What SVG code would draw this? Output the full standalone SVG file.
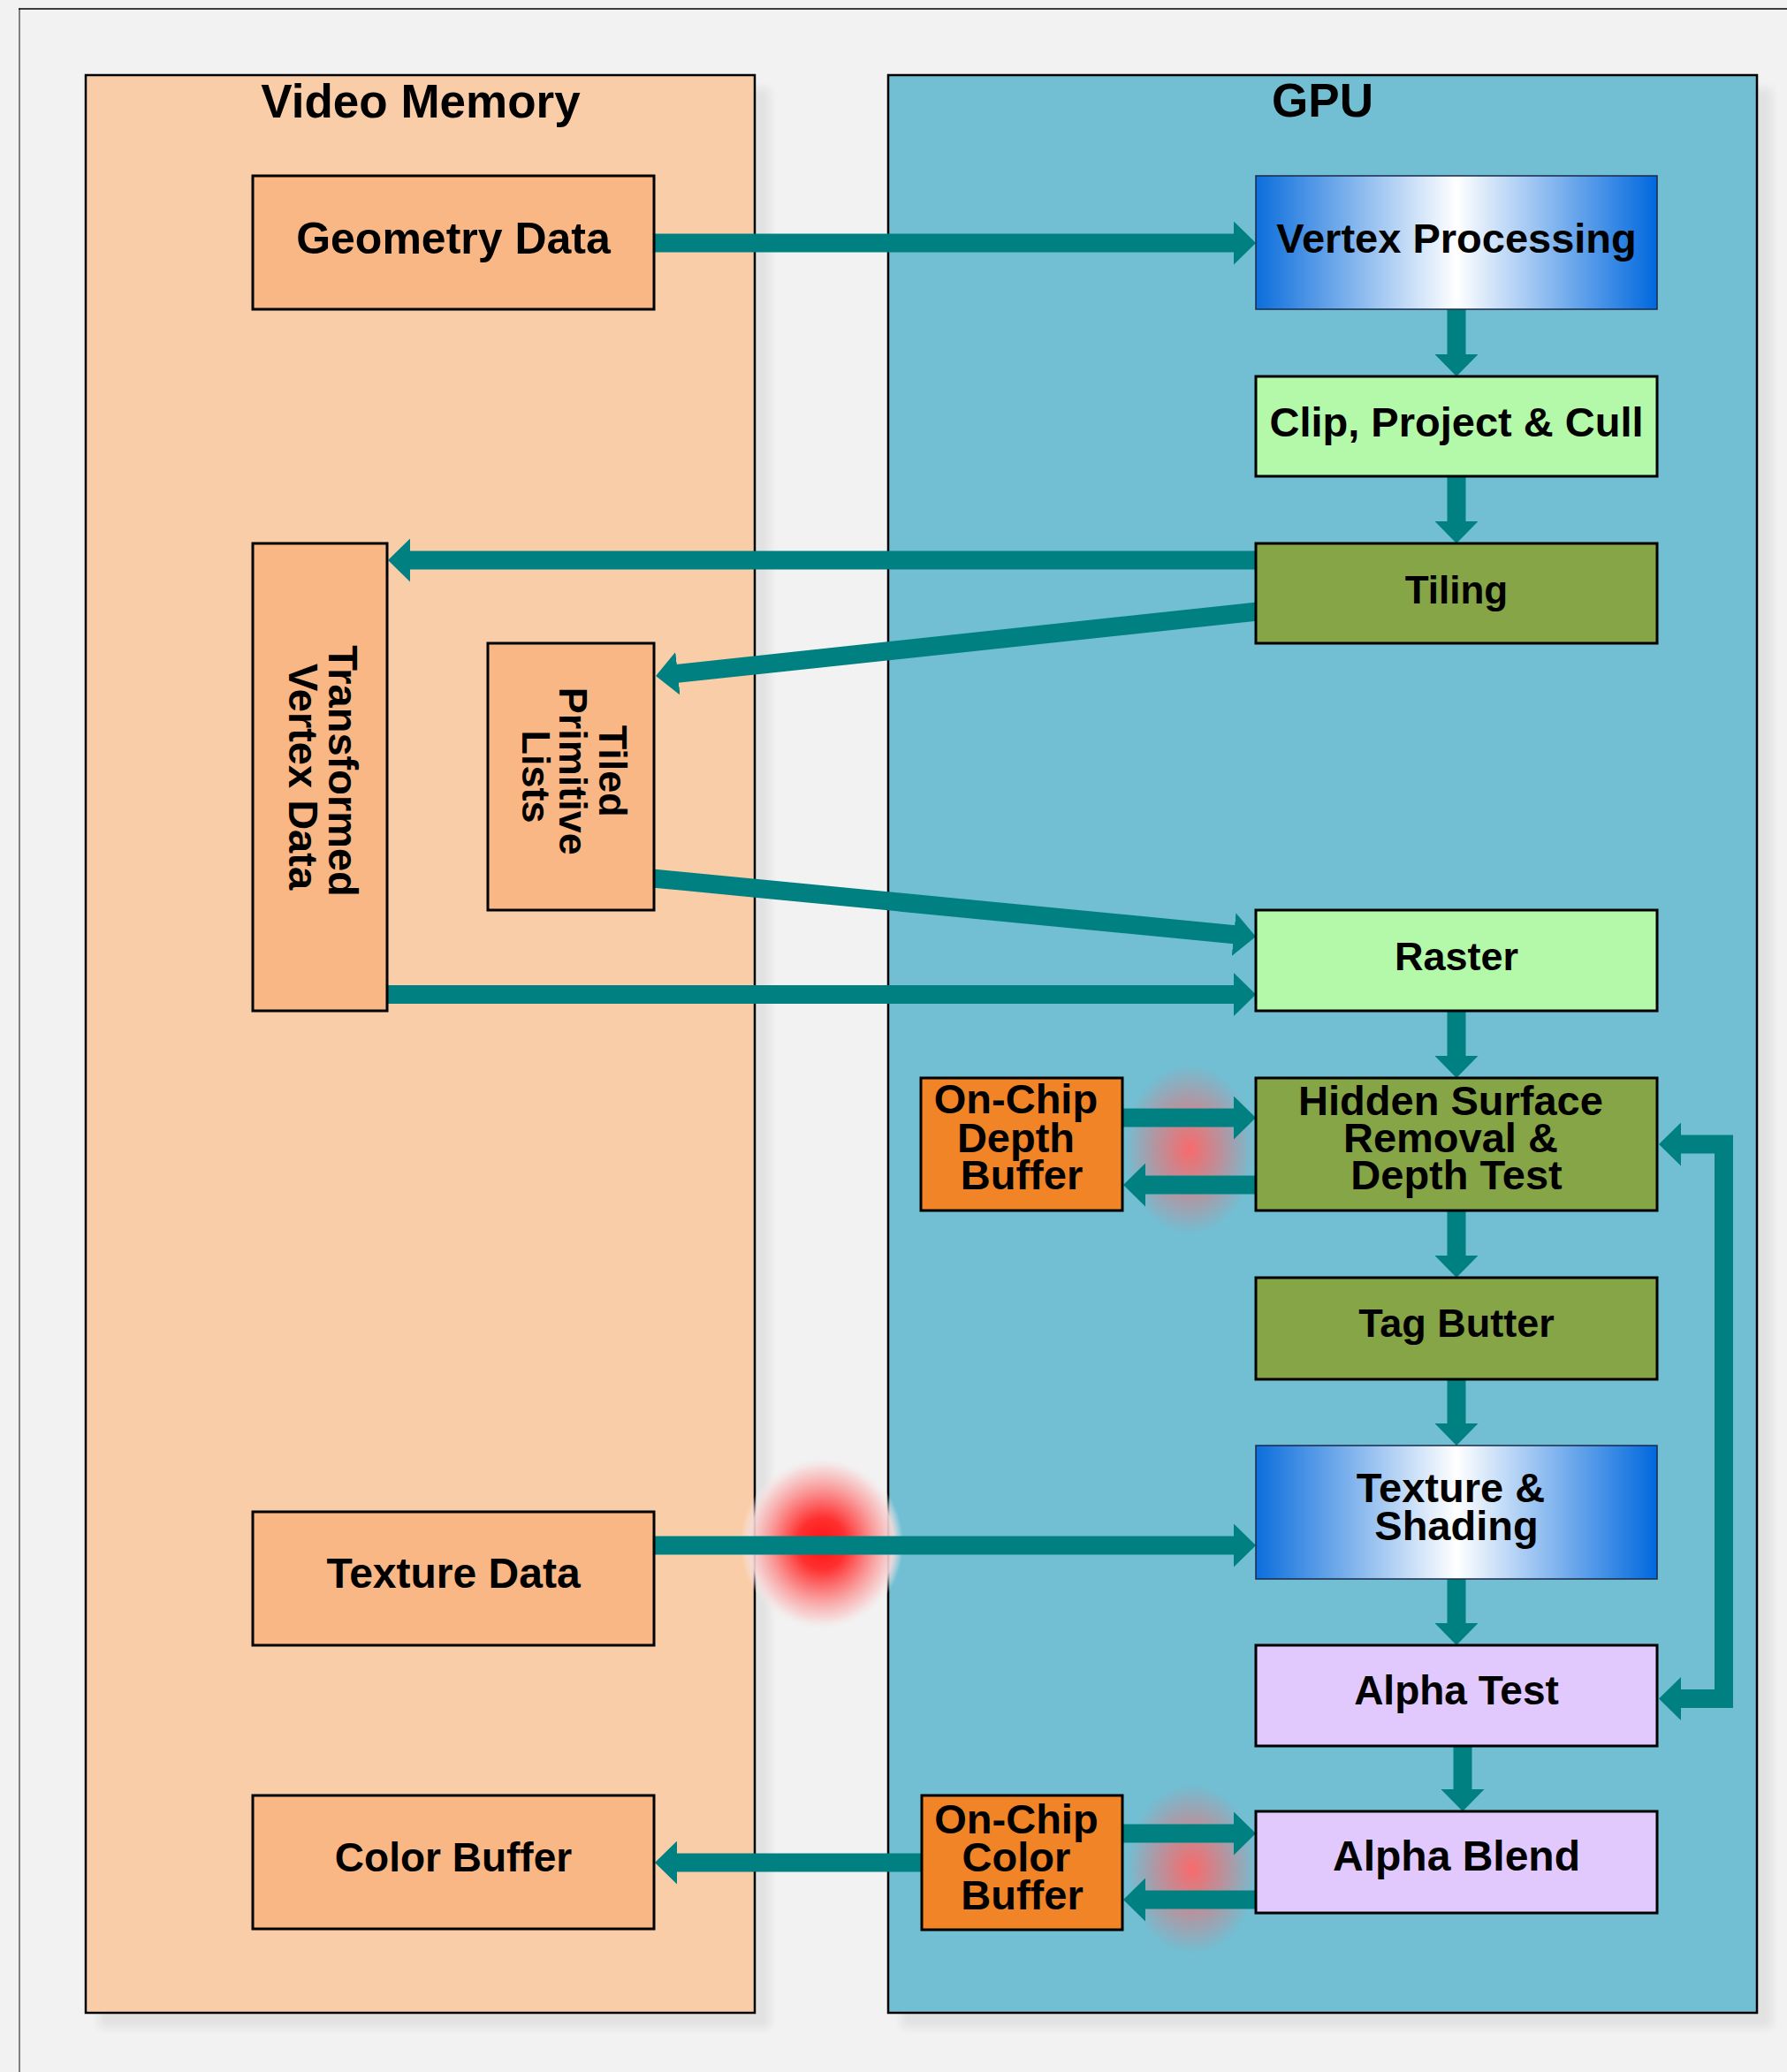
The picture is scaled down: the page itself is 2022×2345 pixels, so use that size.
<svg xmlns="http://www.w3.org/2000/svg" width="2022" height="2345" viewBox="0 0 2022 2345">
  <style>
    .lbl { font-family: "Liberation Sans", Arial, sans-serif; font-weight: bold; font-size: 47px; fill: #000; text-anchor: middle; }
    .title { font-size: 53px; }
    .cont { stroke: #000; stroke-width: 2.5; filter: url(#shadow); }
    .node { stroke: #000; stroke-width: 3; }
    .grad { stroke: #1a2a4a; stroke-width: 1.5; fill: url(#blueGrad); }
    .mem { fill: #F8B784; }
    .chip { fill: #F08426; }
    .lgreen { fill: #B4F8AA; }
    .dgreen { fill: #86A546; }
    .lav { fill: #E1C8FD; }
    .conn { fill: none; stroke: #008080; stroke-width: 21; marker-end: url(#head); }
  </style>
  <defs>
    <marker id="head" viewBox="0 0 25 49" refX="1" refY="24.5" markerWidth="25" markerHeight="49" markerUnits="userSpaceOnUse" orient="auto-start-reverse">
      <path d="M0,0 L25,24.5 L0,49 z" fill="#008080"/>
    </marker>
    <linearGradient id="blueGrad" x1="0" y1="0" x2="1" y2="0">
      <stop offset="0" stop-color="#0C6EDC"/>
      <stop offset="0.5" stop-color="#FFFFFF"/>
      <stop offset="1" stop-color="#0068DE"/>
    </linearGradient>
    <radialGradient id="glowBig">
      <stop offset="0" stop-color="#FF1010" stop-opacity="1"/>
      <stop offset="0.3" stop-color="#FF3030" stop-opacity="1"/>
      <stop offset="0.65" stop-color="#FA9A9A" stop-opacity="0.95"/>
      <stop offset="0.88" stop-color="#F6DADA" stop-opacity="0.9"/>
      <stop offset="1" stop-color="#F4EEEE" stop-opacity="0"/>
    </radialGradient>
    <radialGradient id="glowSmall">
      <stop offset="0" stop-color="#FF6666" stop-opacity="0.95"/>
      <stop offset="0.5" stop-color="#FF6666" stop-opacity="0.5"/>
      <stop offset="1" stop-color="#FF6666" stop-opacity="0"/>
    </radialGradient>
    <filter id="shadow" x="-10%" y="-10%" width="130%" height="130%">
      <feGaussianBlur in="SourceAlpha" stdDeviation="5"/>
      <feOffset dx="16" dy="16" result="b"/>
      <feComponentTransfer in="b" result="s">
        <feFuncA type="linear" slope="0.07"/>
      </feComponentTransfer>
      <feMerge>
        <feMergeNode in="s"/>
        <feMergeNode in="SourceGraphic"/>
      </feMerge>
    </filter>
  </defs>

  <rect x="0" y="0" width="2022" height="2345" fill="#F2F2F2"/>
  <path d="M22,2345 V10" stroke="#808080" stroke-width="2" fill="none"/>
  <path d="M21,10 H2022" stroke="#000" stroke-width="1.5" fill="none"/>

  <g id="video-memory">
    <rect class="cont" x="97" y="85" width="757" height="2193" fill="#FACDA9"/>
    <text class="lbl title" x="476" y="133">Video Memory</text>
  </g>
  <g id="gpu">
    <rect class="cont" x="1005" y="85" width="983" height="2193" fill="#72BED3"/>
    <text class="lbl title" x="1496.5" y="132">GPU</text>
  </g>

  <g id="glows">
    <ellipse cx="1346" cy="1301" rx="74" ry="96" fill="url(#glowSmall)"/>
    <ellipse cx="1349" cy="2115" rx="74" ry="96" fill="url(#glowSmall)"/>
    <ellipse cx="930" cy="1747" rx="92" ry="98" fill="url(#glowBig)"/>
  </g>

  <g id="connectors">
    <path class="conn" d="M738,275 H1397"/>
    <path class="conn" d="M1648,348 V402"/>
    <path class="conn" d="M1648,537 V591"/>
    <path class="conn" d="M1423,634 H463"/>
    <path class="conn" d="M1423,692 L765.9,762.4"/>
    <path class="conn" d="M738,994 L1397.1,1057.7"/>
    <path class="conn" d="M436,1125.5 H1397"/>
    <path class="conn" d="M1648,1142 V1196"/>
    <path class="conn" d="M1268,1265 H1397"/>
    <path class="conn" d="M1423,1341 H1295"/>
    <path class="conn" d="M1648,1368 V1422"/>
    <path class="conn" d="M1648,1559 V1612"/>
    <path class="conn" d="M738,1749 H1397"/>
    <path class="conn" d="M1648,1785 V1838"/>
    <path class="conn" d="M1655,1974 V2026"/>
    <path class="conn" d="M1268,2075 H1397"/>
    <path class="conn" d="M1423,2150 H1295"/>
    <path class="conn" d="M1045,2108 H765"/>
    <path class="conn" d="M1901,1295 H1950.5 V1922.5 H1901" style="marker-start:url(#head)"/>
  </g>

  <g id="geometry-data">
    <rect class="node mem" x="286" y="199" width="454" height="151"/>
    <text class="lbl" x="513" y="287" style="font-size:50px">Geometry Data</text>
  </g>
  <g id="vertex-processing">
    <rect class="grad" x="1421" y="199" width="454" height="151"/>
    <text class="lbl" x="1648" y="286">Vertex Processing</text>
  </g>
  <g id="clip-project-cull">
    <rect class="node lgreen" x="1421" y="426" width="454" height="113"/>
    <text class="lbl" x="1648" y="494">Clip, Project &amp; Cull</text>
  </g>
  <g id="tiling">
    <rect class="node dgreen" x="1421" y="615" width="454" height="113"/>
    <text class="lbl" x="1648" y="683" style="font-size:44px">Tiling</text>
  </g>
  <g id="transformed-vertex-data">
    <rect class="node mem" x="286" y="615" width="152" height="529"/>
    <text class="lbl" transform="translate(362,879) rotate(90)">
      <tspan x="0" y="-10">Transformed</tspan>
      <tspan x="0" y="35">Vertex Data</tspan>
    </text>
  </g>
  <g id="tiled-primitive-lists">
    <rect class="node mem" x="552" y="728" width="188" height="302"/>
    <text class="lbl" transform="translate(646,879) rotate(90)" style="font-size:45px">
      <tspan x="0" y="-32">Tiled</tspan>
      <tspan x="0" y="13.5">Primitive</tspan>
      <tspan x="0" y="55.5">Lists</tspan>
    </text>
  </g>
  <g id="raster">
    <rect class="node lgreen" x="1421" y="1030" width="454" height="114"/>
    <text class="lbl" x="1648" y="1098" style="font-size:45px">Raster</text>
  </g>
  <g id="hidden-surface-removal">
    <rect class="node dgreen" x="1421" y="1220" width="454" height="150"/>
    <text class="lbl">
      <tspan x="1648" y="1261.5">Hidden Surface</tspan>
      <tspan x="1648" y="1304">Removal &amp;</tspan>
      <tspan x="1648" y="1346">Depth Test</tspan>
    </text>
  </g>
  <g id="on-chip-depth-buffer">
    <rect class="node chip" x="1042" y="1220" width="228" height="150"/>
    <text class="lbl">
      <tspan x="1156" y="1260">On-Chip</tspan>
      <tspan x="1156" y="1304">Depth</tspan>
      <tspan x="1156" y="1346">Buffer</tspan>
    </text>
  </g>
  <g id="tag-butter">
    <rect class="node dgreen" x="1421" y="1446" width="454" height="115"/>
    <text class="lbl" x="1648" y="1513" style="font-size:45px">Tag Butter</text>
  </g>
  <g id="texture-shading">
    <rect class="grad" x="1421" y="1636" width="454" height="151"/>
    <text class="lbl">
      <tspan x="1648" y="1700">Texture &amp;</tspan>
      <tspan x="1648" y="1742.5">Shading</tspan>
    </text>
  </g>
  <g id="texture-data">
    <rect class="node mem" x="286" y="1711" width="454" height="151"/>
    <text class="lbl" x="513" y="1797" style="font-size:48px">Texture Data</text>
  </g>
  <g id="alpha-test">
    <rect class="node lav" x="1421" y="1862" width="454" height="114"/>
    <text class="lbl" x="1648" y="1929" style="font-size:46px">Alpha Test</text>
  </g>
  <g id="alpha-blend">
    <rect class="node lav" x="1421" y="2050" width="454" height="115"/>
    <text class="lbl" x="1648" y="2117" style="font-size:48px">Alpha Blend</text>
  </g>
  <g id="color-buffer">
    <rect class="node mem" x="286" y="2032" width="454" height="151"/>
    <text class="lbl" x="513" y="2118" style="font-size:46px">Color Buffer</text>
  </g>
  <g id="on-chip-color-buffer">
    <rect class="node chip" x="1043" y="2032" width="227" height="152"/>
    <text class="lbl">
      <tspan x="1156.5" y="2075">On-Chip</tspan>
      <tspan x="1156.5" y="2118">Color</tspan>
      <tspan x="1156.5" y="2160.5">Buffer</tspan>
    </text>
  </g>
</svg>
